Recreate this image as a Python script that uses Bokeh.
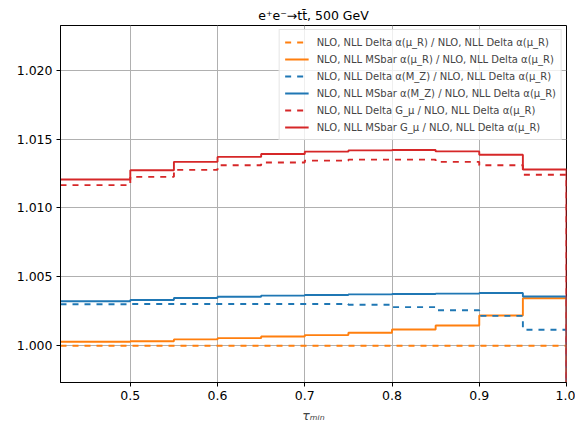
from bokeh.plotting import figure
from bokeh.models import Range1d, FixedTicker, NumeralTickFormatter, Legend, LegendItem
from bokeh.embed import file_html
from bokeh.resources import INLINE

# ---- data ----
bin_edges = [0.42, 0.50, 0.55, 0.60, 0.65, 0.70, 0.75, 0.80, 0.85, 0.90, 0.95, 1.00]
delta_mur = [1.00000, 1.00000, 1.00000, 1.00000, 1.00000, 1.00000, 1.00000, 1.00000, 1.00000, 1.00000, 1.00000]
msbar_mur = [1.00029, 1.00033, 1.00046, 1.00055, 1.00067, 1.00077, 1.00094, 1.00118, 1.00147, 1.00219, 1.00345]
delta_mz = [1.00301, 1.00303, 1.00303, 1.00303, 1.00303, 1.00303, 1.00298, 1.00280, 1.00258, 1.00217, 1.00116]
msbar_mz = [1.00323, 1.00332, 1.00347, 1.00356, 1.00364, 1.00368, 1.00373, 1.00376, 1.00378, 1.00383, 1.00357]
delta_gmu = [1.01166, 1.01226, 1.01277, 1.01310, 1.01330, 1.01344, 1.01351, 1.01351, 1.01335, 1.01310, 1.01241]
msbar_gmu = [1.01207, 1.01274, 1.01335, 1.01371, 1.01392, 1.01409, 1.01418, 1.01421, 1.01411, 1.01387, 1.01279]

labels = [
    "NLO, NLL Delta α(μ_R) / NLO, NLL Delta α(μ_R)",
    "NLO, NLL MSbar α(μ_R) / NLO, NLL Delta α(μ_R)",
    "NLO, NLL Delta α(M_Z) / NLO, NLL Delta α(μ_R)",
    "NLO, NLL MSbar α(M_Z) / NLO, NLL Delta α(μ_R)",
    "NLO, NLL Delta G_μ / NLO, NLL Delta α(μ_R)",
    "NLO, NLL MSbar G_μ / NLO, NLL Delta α(μ_R)",
]
series = [delta_mur, msbar_mur, delta_mz, msbar_mz, delta_gmu, msbar_gmu]
colors = ["#ff7f0e", "#ff7f0e", "#1f77b4", "#1f77b4", "#d62728", "#d62728"]
dashes = ["dashed", "solid", "dashed", "solid", "dashed", "solid"]

x_ticks = [0.5, 0.6, 0.7, 0.8, 0.9, 1.0]
y_ticks = [1.000, 1.005, 1.010, 1.015, 1.020]


def stairs(edges, vals, baseline=0.0):
    xs, ys = [], []
    for i, v in enumerate(vals):
        xs += [edges[i], edges[i + 1]]
        ys += [v, v]
    xs.append(edges[-1])
    ys.append(baseline)
    return xs, ys


FONT = "DejaVu Sans"

p = figure(width=575, height=425, output_backend="svg", toolbar_location=None,
           x_range=Range1d(0.42, 1.0), y_range=Range1d(0.99733, 1.02325),
           min_border_left=60, min_border_right=9, min_border_top=25, min_border_bottom=41)

p.title.text = "e⁺e⁻→tt̄, 500 GeV"
p.title.align = "center"
p.title.text_font = FONT
p.title.text_font_size = "12.5px"
p.title.text_font_style = "normal"
p.title.text_color = "black"
p.title.standoff = 5

p.outline_line_color = "black"
p.outline_line_width = 1
p.background_fill_color = "white"
p.border_fill_color = "white"

p.xaxis.ticker = FixedTicker(ticks=x_ticks)
p.yaxis.ticker = FixedTicker(ticks=y_ticks)
p.xaxis.formatter = NumeralTickFormatter(format="0.0")
p.yaxis.formatter = NumeralTickFormatter(format="0.000")
for ax in (p.xaxis, p.yaxis):
    ax.major_label_text_font = FONT
    ax.major_label_text_font_size = "12.5px"
    ax.major_label_text_color = "black"
    ax.axis_line_color = "black"
    ax.major_tick_line_color = "black"
    ax.major_tick_out = 4
    ax.major_tick_in = 0
    ax.minor_tick_line_color = None
    ax.major_label_standoff = 4
p.xaxis.axis_label = "τₘᵢₙ"
p.xaxis.axis_label_text_font = FONT
p.xaxis.axis_label_text_font_size = "12.5px"
p.xaxis.axis_label_text_font_style = "italic"
p.xaxis.axis_label_standoff = 5

p.grid.grid_line_color = "#b0b0b0"
p.grid.grid_line_width = 1

items = []
for lab, vals, col, dash in zip(labels, series, colors, dashes):
    xs, ys = stairs(bin_edges, vals)
    r = p.line(xs, ys, line_color=col, line_width=1.9, line_dash=dash)
    items.append(LegendItem(label=lab, renderers=[r]))

legend = Legend(items=items, location="top_right")
legend.label_text_font = FONT
legend.label_text_font_size = "10px"
legend.label_height = 14
legend.glyph_height = 14
legend.glyph_width = 24
legend.spacing = 3
legend.padding = 5
legend.margin = 4
legend.label_standoff = 8
legend.border_line_color = "#cccccc"
legend.background_fill_alpha = 0.8
p.add_layout(legend)

open("out.html", "w").write(file_html(p, INLINE))
